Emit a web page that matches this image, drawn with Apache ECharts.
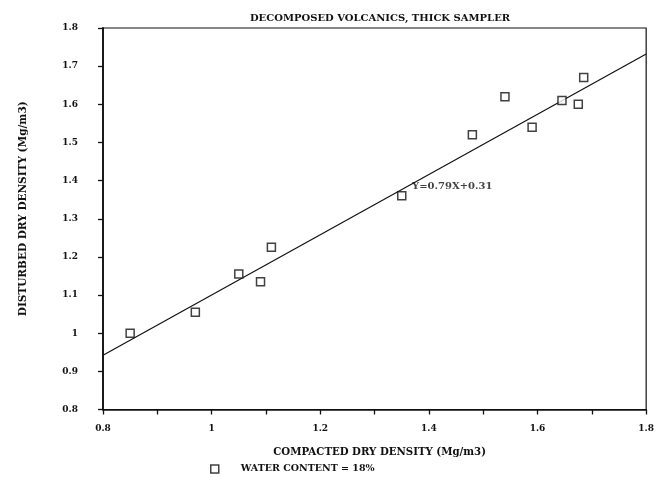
<!DOCTYPE html>
<html>
<head>
<meta charset="utf-8">
<script src="https://cdn.jsdelivr.net/npm/echarts@6/dist/echarts.min.js"></script>
<style>
  html, body { margin: 0; padding: 0; background: #fff; }
  #chart { width: 657px; height: 477px; }
</style>
</head>
<body>
<div id="chart"></div>
<script>
// Data
const compactedDensity = [0.85, 0.97, 1.05, 1.09, 1.11, 1.35, 1.48, 1.54, 1.59, 1.645, 1.675, 1.685];
const disturbedDensity = [1.00, 1.055, 1.155, 1.135, 1.225, 1.36, 1.52, 1.62, 1.54, 1.61, 1.60, 1.67];
const fitSlope = 0.79;
const fitIntercept = 0.31;
const fitRange = [0.8, 1.8];
const xTickLabels = ['0.8', '1', '1.2', '1.4', '1.6', '1.8'];
const yTickLabels = ['0.8', '0.9', '1', '1.1', '1.2', '1.3', '1.4', '1.5', '1.6', '1.7', '1.8'];
const equationText = 'Y=0.79X+0.31';
const equationAnchor = [1.369, 1.384];
const seriesName = 'WATER CONTENT = 18%';

const FONT = '"DejaVu Serif", "Liberation Serif", serif';

const points = compactedDensity.map((x, i) => [x, disturbedDensity[i]]);
const fitLine = fitRange.map(x => [x, fitSlope * x + fitIntercept]);

const chart = echarts.init(document.getElementById('chart'), null, { renderer: 'canvas' });
chart.setOption({
  animation: false,
  backgroundColor: '#ffffff',
  title: {
    text: 'DECOMPOSED VOLCANICS, THICK SAMPLER',
    left: 375,
    textAlign: 'center',
    top: 8,
    textStyle: { fontFamily: FONT, fontSize: 10, fontWeight: 'bold', color: '#111' }
  },
  legend: {
    left: 205,
    top: 459,
    itemWidth: 8,
    itemHeight: 8,
    data: [{ name: seriesName, icon: 'rect', itemStyle: { color: '#fff', borderColor: '#111', borderWidth: 1.5 } }],
    textStyle: { fontFamily: FONT, fontSize: 9.5, fontWeight: 'bold', color: '#111', padding: [0, 0, 0, 17] }
  },
  grid: {
    left: 103, right: 7, top: 28, bottom: 67.5,
    show: true, borderColor: '#111', borderWidth: 1.2, backgroundColor: 'transparent'
  },
  xAxis: {
    type: 'value', min: 0.8, max: 1.8, interval: 0.1,
    name: 'COMPACTED DRY DENSITY (Mg/m3)',
    nameLocation: 'middle', nameGap: 38,
    nameTextStyle: { fontFamily: FONT, fontSize: 10.2, fontWeight: 'bold', color: '#111', padding: [0, 0, 0, 10] },
    axisLine: { show: true, lineStyle: { color: '#111', width: 1.6 } },
    axisTick: { show: true, length: 5, lineStyle: { color: '#111', width: 1.3 } },
    splitLine: { show: false },
    axisLabel: {
      margin: 15,
      fontFamily: FONT, fontSize: 9, fontWeight: 'bold', color: '#111',
      formatter: function (v) {
        const s = String(Math.round(v * 10) / 10);
        return xTickLabels.indexOf(s) >= 0 ? s : '';
      }
    }
  },
  yAxis: {
    type: 'value', min: 0.8, max: 1.8, interval: 0.1,
    name: 'DISTURBED DRY DENSITY (Mg/m3)',
    nameLocation: 'middle', nameGap: 74,
    nameTextStyle: { fontFamily: FONT, fontSize: 10.5, fontWeight: 'bold', color: '#111', padding: [0, 0, 0, 20] },
    axisLine: { show: true, lineStyle: { color: '#111', width: 1.8 } },
    axisTick: { show: true, length: 5, lineStyle: { color: '#111', width: 1.3 } },
    splitLine: { show: false },
    axisLabel: {
      margin: 25,
      fontFamily: FONT, fontSize: 9, fontWeight: 'bold', color: '#111',
      formatter: function (v) {
        const s = String(Math.round(v * 10) / 10);
        return yTickLabels.indexOf(s) >= 0 ? s : '';
      }
    }
  },
  series: [
    {
      name: 'fit',
      type: 'line',
      data: fitLine,
      symbol: 'none',
      lineStyle: { color: '#111', width: 1.2 },
      silent: true,
      z: 2
    },
    {
      name: seriesName,
      type: 'scatter',
      data: points,
      symbol: 'rect',
      symbolSize: 8,
      itemStyle: { color: '#fff', borderColor: '#111', borderWidth: 1.5 },
      z: 3
    },
    {
      name: 'equation',
      type: 'scatter',
      data: [equationAnchor],
      symbolSize: 0,
      silent: true,
      label: {
        show: true, position: 'right', distance: 0,
        formatter: equationText,
        fontFamily: FONT, fontSize: 10, fontWeight: 'bold', color: '#111'
      },
      z: 4
    }
  ]
});
</script>
</body>
</html>
